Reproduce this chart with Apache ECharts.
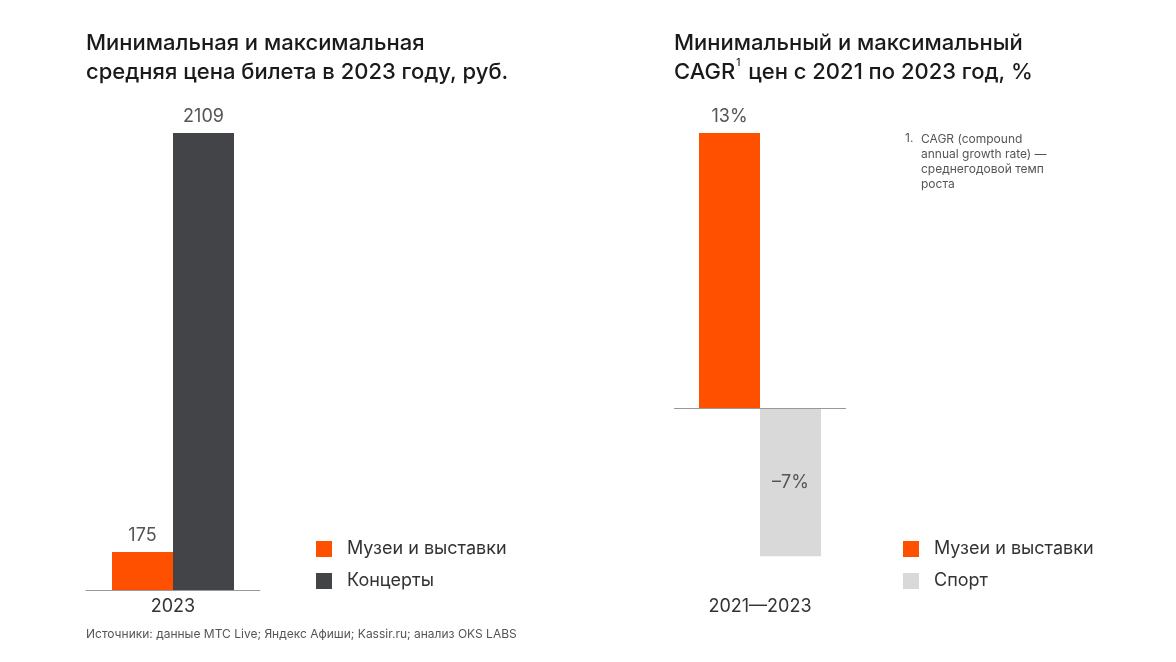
<!DOCTYPE html>
<html>
<head>
<meta charset="utf-8">
<script src="https://cdn.jsdelivr.net/npm/echarts@6/dist/echarts.min.js"></script>
<style>
  html, body { margin: 0; padding: 0; background: #fff; }
  #chart { width: 1176px; height: 662px; }
</style>
</head>
<body>
<div id="chart"></div>
<script>
// данные: цены билетов (руб.)
var priceCategories = ['2023'];
var priceMuseums = [175];
var priceConcerts = [2109];

// данные: CAGR, %
var cagrCategories = ['2021—2023'];
var cagrMuseums = [13];
var cagrSport = [-7];

var ORANGE = '#ff5000';
var DARK = '#434448';
var LIGHT = '#d9d9d9';
var FONT = 'Inter, Roboto, sans-serif';

var chart = echarts.init(document.getElementById('chart'));

var labelStyle = { fontSize: 18, color: '#555', fontFamily: FONT };
var titleStyle = { fontSize: 22, fontWeight: 500, color: '#1a1a1a', lineHeight: 29, fontFamily: FONT };

var option = {
    backgroundColor: '#fff',
    textStyle: { fontFamily: FONT },
    title: [
        {
            text: 'Минимальная и максимальная\nсредняя цена билета в 2023 году, руб.',
            left: 86, top: 29, padding: 0,
            textStyle: titleStyle
        },
        {
            text: 'Минимальный и максимальный\nCAGR{sup|1} цен с 2021 по 2023 год, %',
            left: 674, top: 29, padding: 0,
            textStyle: Object.assign({}, titleStyle, {
                rich: {
                    sup: { fontSize: 10, fontWeight: 500, color: '#1a1a1a', fontFamily: FONT, verticalAlign: 'top', lineHeight: 22, padding: [0, 2, 0, 1] }
                }
            })
        }
    ],
    legend: [
        {
            data: ['Музеи и выставки', 'Концерты'],
            orient: 'vertical',
            left: 316, top: 540, padding: 0,
            itemWidth: 16, itemHeight: 16, itemGap: 14,
            icon: 'rect',
            selectedMode: false,
            textStyle: { fontSize: 18, color: '#333', fontFamily: FONT, padding: [0, 0, 0, 10] }
        },
        {
            data: ['Музеи и выставки', 'Спорт'],
            orient: 'vertical',
            left: 903, top: 540, padding: 0,
            itemWidth: 16, itemHeight: 16, itemGap: 14,
            icon: 'rect',
            selectedMode: false,
            textStyle: { fontSize: 18, color: '#333', fontFamily: FONT, padding: [0, 0, 0, 10] }
        }
    ],
    grid: [
        { left: 86, top: 133, width: 174, height: 457 },
        { left: 674, top: 133, width: 172, height: 457 }
    ],
    xAxis: [
        {
            type: 'category', gridIndex: 0, data: priceCategories,
            axisLine: { lineStyle: { color: '#999' } },
            axisTick: { show: false },
            axisLabel: { fontSize: 18, color: '#333', margin: 8, fontFamily: FONT }
        },
        {
            type: 'category', gridIndex: 1, data: cagrCategories,
            axisLine: { show: false, onZero: false },
            axisTick: { show: false },
            axisLabel: { fontSize: 18, color: '#333', margin: 8, fontFamily: FONT }
        }
    ],
    yAxis: [
        { type: 'value', gridIndex: 0, min: 0, max: 2109, show: false, splitLine: { show: false } },
        { type: 'value', gridIndex: 1, min: -8.6, max: 13, show: false, splitLine: { show: false } }
    ],
    series: [
        {
            name: 'Музеи и выставки', type: 'bar', xAxisIndex: 0, yAxisIndex: 0,
            data: priceMuseums, barWidth: 61, barGap: '0%',
            itemStyle: { color: ORANGE },
            label: Object.assign({ show: true, position: 'top', distance: 7 }, labelStyle)
        },
        {
            name: 'Концерты', type: 'bar', xAxisIndex: 0, yAxisIndex: 0,
            data: priceConcerts, barWidth: 61, barGap: '0%',
            itemStyle: { color: DARK },
            label: Object.assign({ show: true, position: 'top', distance: 7 }, labelStyle)
        },
        {
            name: 'Музеи и выставки', type: 'bar', xAxisIndex: 1, yAxisIndex: 1,
            data: cagrMuseums, barWidth: 61, barGap: '0%',
            itemStyle: { color: ORANGE },
            label: Object.assign({ show: true, position: 'top', distance: 7, formatter: '{c}%' }, labelStyle),
            markLine: {
                silent: true, symbol: 'none',
                label: { show: false },
                lineStyle: { color: '#999', type: 'solid', width: 1 },
                data: [{ yAxis: 0 }]
            }
        },
        {
            name: 'Спорт', type: 'bar', xAxisIndex: 1, yAxisIndex: 1,
            data: cagrSport, barWidth: 61, barGap: '0%',
            itemStyle: { color: LIGHT },
            label: Object.assign({
                show: true, position: 'inside',
                formatter: function (p) { return '–' + Math.abs(p.value) + '%'; }
            }, labelStyle)
        }
    ],
    graphic: [
        {
            type: 'text', left: 905, top: 132,
            style: { text: '1.', fontSize: 12, fill: '#555', fontFamily: FONT }
        },
        {
            type: 'text', left: 921, top: 132,
            style: {
                text: 'CAGR (compound\nannual growth rate) —\nсреднегодовой темп\nроста',
                fontSize: 12, lineHeight: 15, fill: '#555', fontFamily: FONT
            }
        },
        {
            type: 'text', left: 86, top: 628,
            style: {
                text: 'Источники: данные МТС Live; Яндекс Афиши; Kassir.ru; анализ OKS LABS',
                fontSize: 12, fill: '#555', fontFamily: FONT
            }
        }
    ]
};

chart.setOption(option);
</script>
</body>
</html>
